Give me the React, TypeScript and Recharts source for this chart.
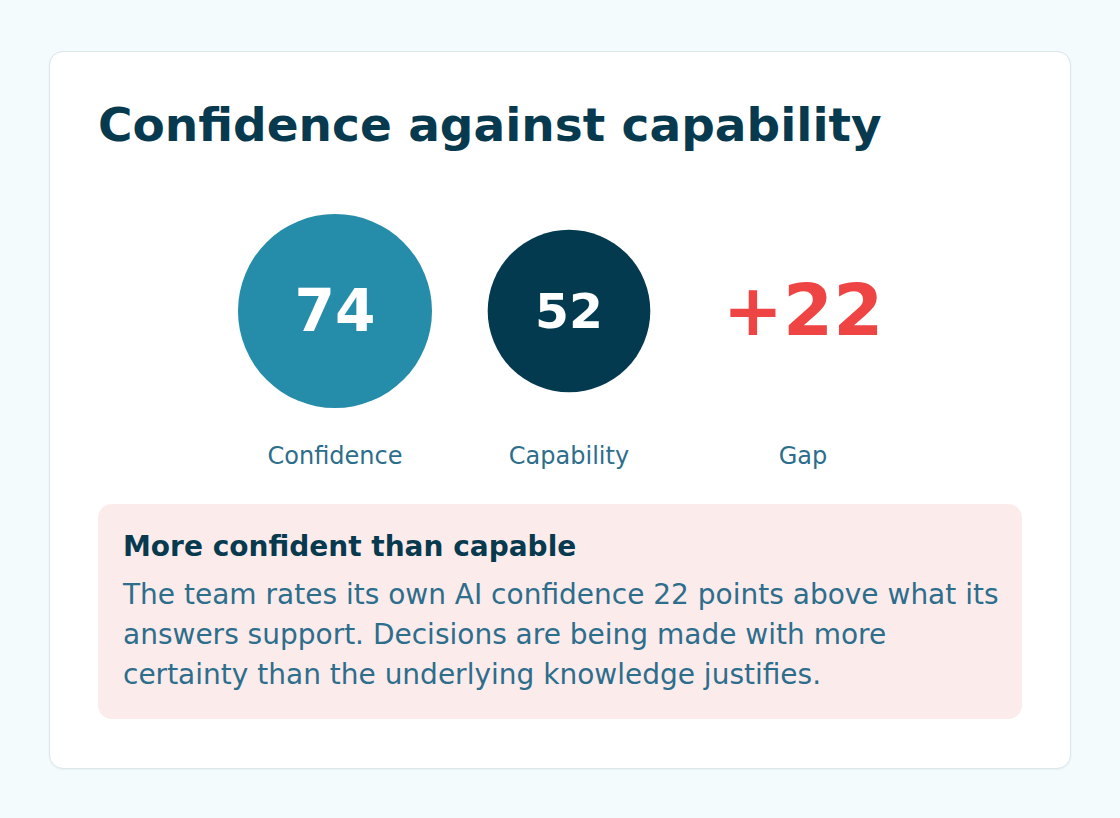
import { ScatterChart, Scatter, XAxis, YAxis, ZAxis } from 'recharts';

const CATEGORIES = ['Confidence', 'Capability', 'Gap'];
const SCORES = [74, 52, 22];
const COLORS = ['#258caa', '#033a4f', '#ef4444']; // confidence, capability, gap

const TITLE = 'Confidence against capability';
const NOTE_TITLE = 'More confident than capable';
const NOTE_LINES = [
  'The team rates its own AI confidence 22 points above what its',
  'answers support. Decisions are being made with more',
  'certainty than the underlying knowledge justifies.',
];

const data = CATEGORIES.map((name, i) => ({ name, value: SCORES[i] }));

const FONT = '"DejaVu Sans", Verdana, sans-serif';

// circles sized by area, the gap shown as a number instead
const Bubble = (props: any) => {
  const { cx, cy, width, payload } = props;
  const color = COLORS[CATEGORIES.indexOf(payload.name)];
  if (payload.name === 'Gap') {
    return (
      <text x={cx} y={cy} dy="0.33em" textAnchor="middle" fontSize={72} fontWeight={700} fill={color}>
        {`+${payload.value}`}
      </text>
    );
  }
  const r = width / 2;
  return (
    <g>
      <circle cx={cx} cy={cy} r={r} fill={color} />
      <text x={cx} y={cy} dy="0.34em" textAnchor="middle" fontSize={r * 0.6} fontWeight={700} fill="#ffffff">
        {payload.value}
      </text>
    </g>
  );
};

const App = () => {
  return (
    <div style={{ position: 'relative', width: 1120, height: 818, background: '#f3fbfd', fontFamily: FONT }}>
      <style>{'body{margin:0}'}</style>
      <div
        style={{
          position: 'absolute',
          left: 49,
          top: 51,
          width: 1022,
          height: 718,
          boxSizing: 'border-box',
          background: '#ffffff',
          border: '1px solid #dbe6ea',
          borderRadius: 14,
          boxShadow: '0 1px 2px rgba(2,58,79,0.05)',
          padding: '44px 48px 0 48px',
        }}
      >
        <h1 style={{ margin: 0, fontSize: 47, lineHeight: '58px', fontWeight: 700, color: '#073a4e' }}>{TITLE}</h1>

        <div style={{ marginTop: 21 }}>
          <ScatterChart width={923} height={305} margin={{ top: 0, right: 0, bottom: 0, left: 0 }}>
            <XAxis
              dataKey="name"
              type="category"
              scale="point"
              padding={{ left: 237, right: 218 }}
              axisLine={false}
              tickLine={false}
              tickSize={0}
              tickMargin={0}
              height={33}
              interval={0}
              tick={{ fill: '#2c6e8c', fontSize: 24 }}
            />
            <YAxis type="number" dataKey={() => 0} domain={[-1, 1]} hide />
            <ZAxis type="number" dataKey="value" domain={[0, 100]} range={[0, 39945]} />
            <Scatter data={data} shape={<Bubble />} isAnimationActive={false} />
          </ScatterChart>
        </div>

        <div
          style={{
            marginTop: 24,
            background: '#fcebeb',
            borderRadius: 14,
            padding: '25px 24px 24px 25px',
          }}
        >
          <div style={{ fontSize: 28, lineHeight: '36px', fontWeight: 700, color: '#073a4e', marginBottom: 10 }}>
            {NOTE_TITLE}
          </div>
          <div style={{ fontSize: 28, lineHeight: '40px', color: '#2c6e8c' }}>
            {NOTE_LINES.map(line => (
              <div key={line} style={{ whiteSpace: 'nowrap' }}>{line}</div>
            ))}
          </div>
        </div>
      </div>
    </div>
  );
};

export default App;
